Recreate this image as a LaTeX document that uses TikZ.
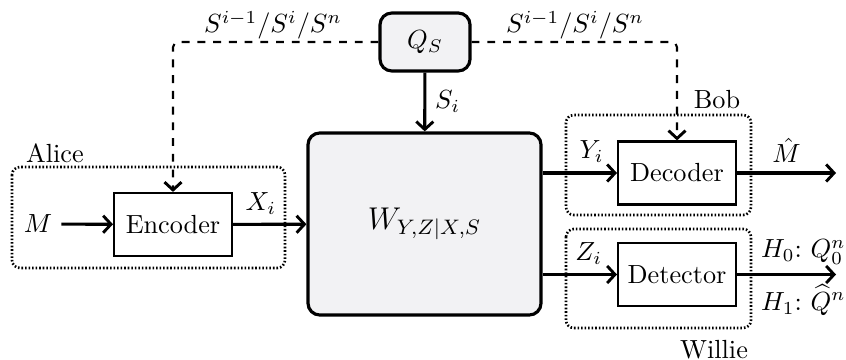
\documentclass[tikz,border=0pt]{standalone}
\usepackage{tikz}
\usetikzlibrary{arrows.meta}
\usepackage{amsmath}
\usepackage{xcolor}

\definecolor{chanfill}{RGB}{242,242,244}

\tikzset{
    tip/.tip={Straight Barb[length=3pt, width=6.5pt, line width=1.1pt]},
    block/.style={draw, thick, minimum width=1.58cm, minimum height=0.845cm, inner sep=0pt},
    chanbox/.style={draw, very thick, fill=chanfill, rounded corners=4.5pt, inner sep=0pt},
    groupbox/.style={line width=1pt, dash pattern=on 0.6pt off 0.75pt, rounded corners=3pt},
    flow/.style={very thick, -tip},
    side/.style={thick, dashed, -tip, rounded corners=2pt}
}

\begin{document}
\begin{tikzpicture}[x=0.0134cm, y=-0.0134cm]
        % \draw[style=help lines] (0, 0) grid[step=50] (846, 360);
        \useasboundingbox (0, 0) rectangle (846, 360);
        \node[chanbox, minimum width=1.206cm, minimum height=0.777cm] (qs) at (425, 42) {$Q_S$};
        \node[chanbox, minimum width=3.122cm, minimum height=2.439cm] (chan) at (424.5, 224)
            {\large $W_{Y,Z|X,S}$};
        \node[block] (enc) at (173, 224.5) {Encoder};
        \node[block] (dec) at (677, 173) {Decoder};
        \node[block] (det) at (677, 274.5) {Detector};
        \node (msg) at (38, 224) {$M$};
        \draw[groupbox] (12, 167) rectangle (285, 268);
        \draw[groupbox] (566, 115) rectangle (751, 215);
        \draw[groupbox] (566, 229) rectangle (751, 328);
        \node (alice) at (55, 153) {Alice};
        \node (bob) at (717, 100) {Bob};
        \node (willie) at (714, 350) {Willie};
        \draw[side] (qs.west) -| (enc.north);
        \draw[side] (qs.east) -| (dec.north);
        \node[anchor=base] (stl) at (273, 33) {$S^{i-1}/S^{i}/S^{n}$};
        \node[anchor=base] (str) at (575, 33) {$S^{i-1}/S^{i}/S^{n}$};
        \draw[flow] (qs) -- node[midway, right] {$S_i$} (chan);
        \draw[flow] (msg) -- (enc);
        \draw[flow] (enc) -- node[pos=0.38, above] {$X_i$} (chan);
        \draw[flow] (chan.east |- dec) -- node[pos=0.66, above] {$Y_i$} (dec);
        \draw[flow] (chan.east |- det) -- node[pos=0.62, above] {$Z_i$} (det);
        \coordinate (mhat) at (836, 173);
        \coordinate (hyp) at (836, 274.5);
        \draw[flow] (dec) -- node[midway, above] {$\hat{M}$} (mhat);
        \draw[flow] (det) -- node[pos=0.67, above] {$H_0$:~$Q_0^n$}
            node[pos=0.67, below] {$H_1$:~$\widehat{Q}^n$} (hyp);
    \end{tikzpicture}
\end{document}
